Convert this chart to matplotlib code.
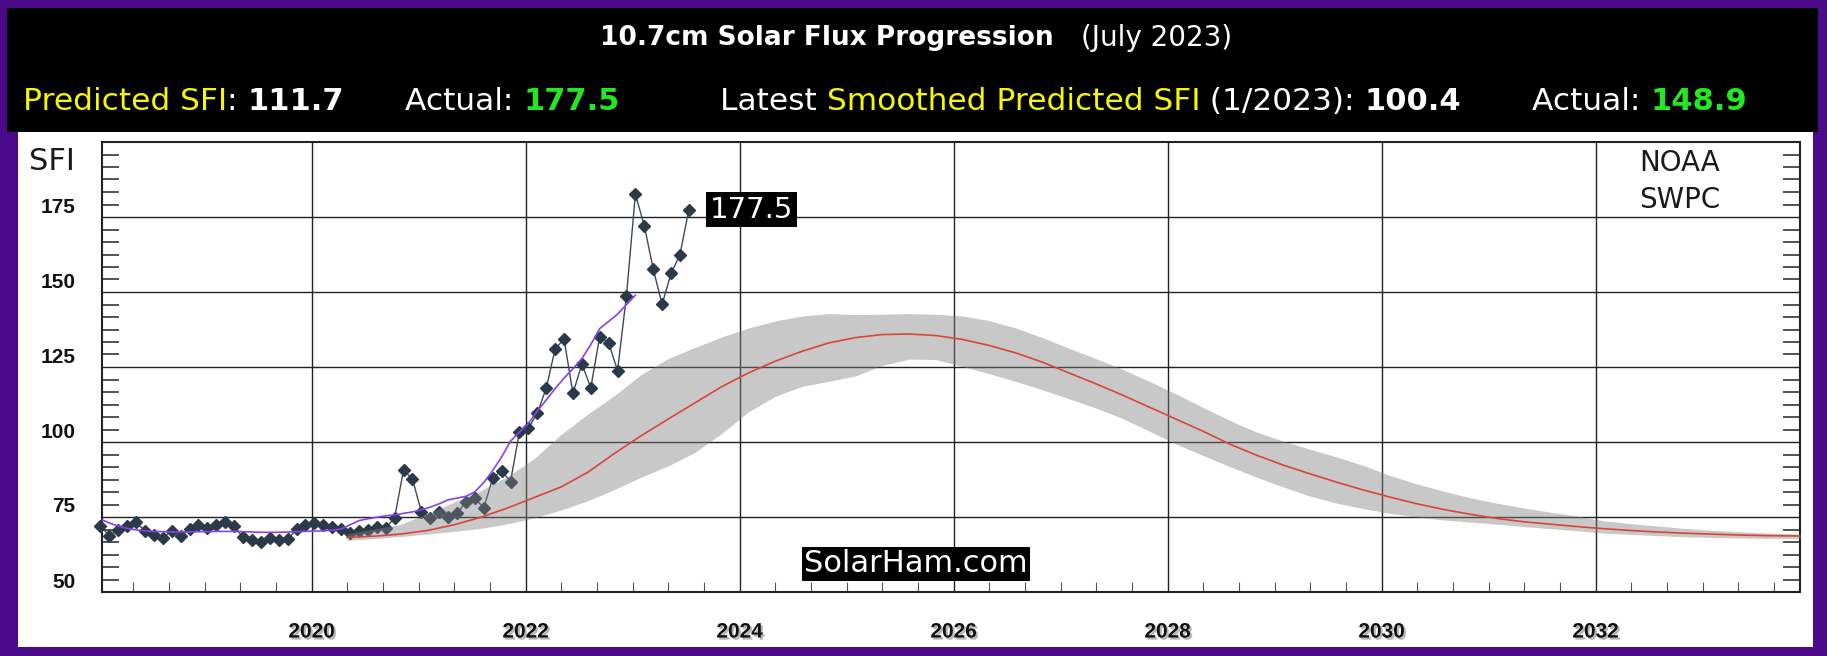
import numpy as np
import matplotlib
matplotlib.use('Agg')
import matplotlib.pyplot as plt
import matplotlib.patheffects as pe
from matplotlib.patches import Rectangle
from matplotlib.ticker import MultipleLocator
from matplotlib.transforms import ScaledTranslation

# monthly observed 10.7cm flux, Jan 2018 .. Jul 2023
observed = [72.0, 68.8, 70.6, 72.0, 73.2, 70.4, 69.1, 68.1, 70.4, 68.8, 71.0, 72.3,
            71.3, 72.3, 73.3, 72.0, 68.2, 67.5, 66.8, 67.9, 67.3, 67.6, 70.9, 72.3,
            73.1, 72.3, 71.8, 70.9, 69.6, 70.5, 70.7, 71.8, 71.2, 74.8, 90.7, 87.6,
            76.8, 74.6, 76.8, 75.1, 76.2, 80.1, 81.2, 78.1, 87.9, 90.4, 86.8, 103.4,
            104.6, 109.6, 117.9, 131.0, 134.3, 116.2, 126.0, 118.1, 135.1, 133.1, 123.8, 148.7,
            182.6, 172.1, 157.7, 145.9, 156.2, 162.4, 177.5]

# 13-month smoothed observed, Jan 2018 .. Jan 2023
smoothed = [74.3, 73.0, 72.0, 71.2, 70.7, 70.4, 70.2, 70.1, 70.0, 70.0, 70.0, 70.1,
            70.1, 70.2, 70.2, 70.2, 70.1, 70.0, 69.9, 69.9, 69.9, 70.0, 70.1, 70.2,
            70.3, 70.4, 70.6, 71.0, 72.4, 73.8, 74.4, 74.9, 75.4, 75.7, 76.2, 76.7,
            77.4, 78.3, 79.4, 80.7, 81.3, 81.9, 83.4, 86.5, 90.5, 95.0, 100.3, 103.3,
            106.2, 110.3, 114.0, 117.8, 121.3, 124.4, 127.8, 132.5, 137.8, 140.2, 142.6, 145.8,
            148.9]

# NOAA predicted cycle (quarterly from 2020.33) and its range
pred_years = np.arange(2020.33, 2034.1, 0.25)
predicted = [68.2, 68.6, 69.3, 70.5, 72.4, 74.9, 78.0, 81.5, 85.0, 89.9, 96.2, 102.1,
             107.6, 113.0, 118.4, 123.0, 126.9, 130.2, 133.0, 134.8, 135.8, 136.0, 135.5, 134.2,
             132.2, 129.7, 126.6, 123.0, 119.4, 115.6, 111.6, 107.6, 103.6, 99.3, 95.6, 92.3,
             89.4, 86.6, 84.0, 81.6, 79.4, 77.5, 75.9, 74.5, 73.4, 72.6, 71.8, 71.1,
             70.5, 70.0, 69.6, 69.3, 69.0, 68.8, 68.7, 68.6]
pred_high = [69.4, 71.0, 72.6, 76.0, 80.0, 83.8, 88.5, 94.5, 102.5, 109.3, 115.5, 122.5,
             127.8, 131.5, 135.0, 138.0, 140.3, 142.0, 142.8, 142.5, 142.6, 142.8, 142.6, 142.0,
             140.5, 138.0, 134.8, 131.2, 127.8, 124.2, 120.2, 116.0, 111.5, 107.2, 103.3, 100.3,
             97.6, 95.0, 92.2, 88.8, 86.0, 83.6, 81.4, 79.6, 78.0, 76.6, 75.3, 73.7,
             72.8, 72.0, 71.2, 70.6, 70.1, 69.7, 69.4, 69.2]
pred_low = [67.2, 67.8, 68.5, 69.3, 70.2, 71.2, 72.7, 74.7, 77.3, 80.4, 84.2, 88.3,
            92.0, 96.5, 102.8, 110.0, 115.2, 118.5, 120.2, 122.0, 125.5, 127.6, 127.5, 125.2,
            122.8, 120.2, 117.4, 114.4, 111.3, 107.8, 103.6, 99.3, 95.5, 91.8, 88.3, 85.0,
            82.0, 79.6, 77.8, 76.2, 75.0, 74.0, 73.3, 72.6, 71.8, 71.1, 70.4, 69.6,
            69.2, 68.8, 68.4, 68.2, 68.0, 67.9, 67.9, 67.8]

y_ticks = [50, 75, 100, 125, 150, 175]
x_ticks = [2020, 2022, 2024, 2026, 2028, 2030, 2032]

obs_x = 2018 + (np.arange(len(observed)) + 0.3) / 12
sm_x = 2018 + (np.arange(len(smoothed)) + 0.3) / 12

W, H = 1827, 656
fig = plt.figure(figsize=(W / 100, H / 100), dpi=100)
fig.patch.set_facecolor('#4a0a8a')

def fx(px):
    return px / W

def fy(px):
    return 1 - px / H

# header band and white panel
fig.add_artist(Rectangle((fx(7), fy(132)), fx(1818 - 7), (132 - 8) / H,
                         transform=fig.transFigure, facecolor='black', edgecolor='none', zorder=-2))
fig.add_artist(Rectangle((fx(18), fy(647)), fx(1813 - 18), (647 - 132) / H,
                         transform=fig.transFigure, facecolor='white', edgecolor='none', zorder=-2))

ax = fig.add_axes([fx(102), fy(592), fx(1800 - 102), (592 - 142) / H])
ax.set_xlim(2018.04, 2033.91)
ax.set_ylim(50, 200)

# grid + ticks
ax.set_axisbelow(True)
ax.grid(which='major', color='#222222', lw=1.0)
tick_font = dict(fontweight='bold', family=['Liberation Sans', 'DejaVu Sans'], fontsize=15)
ax.set_yticks(y_ticks, [str(v) for v in y_ticks], **tick_font)
ax.set_xticks(x_ticks, [str(v) for v in x_ticks], **tick_font)
ax.tick_params(axis='y', which='major', length=0, pad=19, colors='#111111')
ax.tick_params(axis='x', which='major', length=0, pad=22, colors='#111111')
ax.xaxis.set_minor_locator(MultipleLocator(1 / 3))
ax.yaxis.set_minor_locator(MultipleLocator(25 / 6))
ax.tick_params(axis='x', which='minor', direction='in', length=7, width=0.8, color='#555555')
ax.tick_params(axis='y', which='minor', direction='in', length=12, width=1.3, color='#444444',
               left=True, right=True)
shift = ScaledTranslation(0, 12 / 100, fig.dpi_scale_trans)
for lab in ax.get_yticklabels():
    lab.set_transform(lab.get_transform() + shift)
for lab in ax.get_xticklabels():
    lab.set_path_effects([pe.withSimplePatchShadow(offset=(1.5, -1.5), shadow_rgbFace='#888888', alpha=0.6)])
for s in ax.spines.values():
    s.set_linewidth(1.5)
    s.set_color('#222222')

# data
ax.plot(obs_x, observed, color='#3b4a58', lw=1.0, zorder=3)
ax.plot(obs_x, observed, 'D', ms=6.3, color='#2b3a48', zorder=3.1, clip_on=False)
ax.plot(sm_x, smoothed, color='#8a3ff0', lw=1.2, zorder=4)
ax.fill_between(pred_years, pred_low, pred_high, color='#808080', alpha=0.43, lw=0, zorder=5)
ax.plot(pred_years, predicted, color='#d9443a', lw=1.2, zorder=6)

ax.annotate(f'{observed[-1]:.1f}', xy=(obs_x[-1], observed[-1]), xytext=(15, 0),
            textcoords='offset points', ha='left', va='center', color='white', fontsize=21,
            bbox=dict(facecolor='black', edgecolor='none', boxstyle='square,pad=0.12'), zorder=8)

fig.text(fx(916), fy(564), 'SolarHam.com', color='white', fontsize=22, ha='center', va='center',
         bbox=dict(facecolor='black', edgecolor='none', boxstyle='square,pad=0.08'), zorder=10)
fig.text(fx(52), fy(162), 'SFI', color='#1a1a1a', fontsize=22, ha='center', va='center')
fig.text(fx(1680), fy(163), 'NOAA', color='#1a1a1a', fontsize=20, ha='center', va='center')
fig.text(fx(1680), fy(200), 'SWPC', color='#1a1a1a', fontsize=20, ha='center', va='center')

# header text, coloured pieces chained one after another
renderer = fig.canvas.get_renderer()

def text_width(txt, **kw):
    t = fig.text(0, 0, txt + '|', **kw)
    w = t.get_window_extent(renderer).width
    t.remove()
    t = fig.text(0, 0, '|', **kw)
    w -= t.get_window_extent(renderer).width
    t.remove()
    return w

def pieces(x_px, y_px, parts):
    x = x_px
    for txt, color, size, weight in parts:
        kw = dict(fontsize=size, fontweight=weight, color=color)
        fig.text(fx(x), fy(y_px), txt, ha='left', va='center', **kw)
        x += text_width(txt, **kw)

WHITE, YELLOW, GREEN = 'white', '#f7f700', '#22e822'
REG, BIG = 22.5, 22

fig.text(fx(600), fy(38), '10.7cm Solar Flux Progression', color=WHITE, fontsize=19,
         fontweight='bold', ha='left', va='center')
fig.text(fx(1081), fy(38), '(July 2023)', color=WHITE, fontsize=20, ha='left', va='center')

pieces(23, 102, [('Predicted SFI', YELLOW, REG, 'normal'), (': ', WHITE, REG, 'normal'),
                 ('111.7', WHITE, BIG, 'bold')])
pieces(405, 102, [('Actual: ', WHITE, REG, 'normal'), ('177.5', GREEN, BIG, 'bold')])
pieces(720, 102, [('Latest ', WHITE, REG, 'normal'),
                  ('Smoothed Predicted SFI', YELLOW, REG, 'normal'),
                  (' (1/2023): ', WHITE, REG, 'normal'), ('100.4', WHITE, BIG, 'bold')])
pieces(1532, 102, [('Actual: ', WHITE, REG, 'normal'), ('148.9', GREEN, BIG, 'bold')])

fig.savefig('out.png', dpi=100, facecolor=fig.get_facecolor())
